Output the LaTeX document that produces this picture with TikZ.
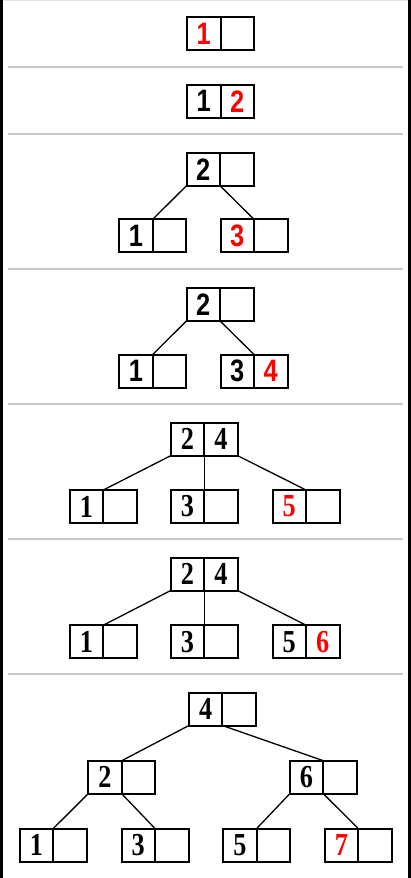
\documentclass[tikz,border=0pt]{standalone}
\usepackage{fontspec}
\setmainfont{Liberation Serif}
\newfontfamily\sansf{Liberation Sans}
\definecolor{newkey}{HTML}{FF0000}
\definecolor{sepgray}{HTML}{C8C8C8}
\tikzset{
  cell/.style={draw=black, line width=2pt, minimum width=33.5pt, minimum height=33pt, inner sep=0pt, outer sep=0pt},
  sansdig/.style={font=\sansf\bfseries\fontsize{31}{31}\selectfont},
  serifdig/.style={font=\bfseries\fontsize{32}{32}\selectfont},
  conn/.style={line width=1.3pt, black},
  sepline/.style={line width=2pt, sepgray},
}
\newcommand\dg[1]{\scalebox{0.82}[1]{#1}}
\newcommand\nk[1]{\textcolor{newkey}{\dg{#1}}}
% name, divider x, centre y, style, left key, right key
\newcommand\bkey[6]{%
  \node[cell,#4,anchor=east] (#1l) at (#2,#3) {#5};
  \node[cell,#4,anchor=west] (#1r) at (#2,#3) {#6};
}
\begin{document}
\begin{tikzpicture}[x=1pt,y=-1pt]
\useasboundingbox (0,0) rectangle (411,878);
\fill[white] (0,0) rectangle (411,878);
\fill[black] (0,0) rectangle (3,878);
\fill[black] (407.5,0) rectangle (411,878);
\draw[sepgray!50, line width=1pt] (3,0.5) -- (407.5,0.5);
% separators
\foreach \yy in {66.5,134,269,404,539,673.5}
  \draw[sepline] (8,\yy) -- (403,\yy);
% row 1
\bkey{a}{220.5}{33.5}{sansdig}{\nk{1}}{}
% row 2
\bkey{b}{220.5}{101.3}{sansdig}{\dg{1}}{\nk{2}}
% row 3
\bkey{ct}{220}{169.2}{sansdig}{\dg{2}}{}
\bkey{cl}{152.7}{235.8}{sansdig}{\dg{1}}{}
\bkey{cr}{254}{235.8}{sansdig}{\nk{3}}{}
\draw[conn] (ctl.south west) -- (cll.north east);
\draw[conn] (ctl.south east) -- (crl.north east);
% row 4
\bkey{dt}{220}{304.4}{sansdig}{\dg{2}}{}
\bkey{dl}{152.7}{371}{sansdig}{\dg{1}}{}
\bkey{dr}{254}{371}{sansdig}{\dg{3}}{\nk{4}}
\draw[conn] (dtl.south west) -- (dll.north east);
\draw[conn] (dtl.south east) -- (drl.north east);
% row 5
\bkey{et}{204.2}{439.2}{serifdig}{\dg{2}}{\dg{4}}
\bkey{el}{103.3}{506.5}{serifdig}{\dg{1}}{}
\bkey{em}{204.2}{506.5}{serifdig}{\dg{3}}{}
\bkey{er}{306}{506.5}{serifdig}{\nk{5}}{}
\draw[conn] (etl.south west) -- (ell.north east);
\draw[conn] (etl.south east) -- (eml.north east);
\draw[conn] (etr.south east) -- (erl.north east);
% row 6
\bkey{ft}{204.2}{574}{serifdig}{\dg{2}}{\dg{4}}
\bkey{fl}{103.3}{641.7}{serifdig}{\dg{1}}{}
\bkey{fm}{204.2}{641.7}{serifdig}{\dg{3}}{}
\bkey{fr}{306}{641.7}{serifdig}{\dg{5}}{\nk{6}}
\draw[conn] (ftl.south west) -- (fll.north east);
\draw[conn] (ftl.south east) -- (fml.north east);
\draw[conn] (ftr.south east) -- (frl.north east);
% row 7
\bkey{g}{222.4}{709}{serifdig}{\dg{4}}{}
\bkey{gl}{121.7}{777.2}{serifdig}{\dg{2}}{}
\bkey{gr}{323.3}{777.2}{serifdig}{\dg{6}}{}
\bkey{ga}{53.3}{845}{serifdig}{\dg{1}}{}
\bkey{gb}{155}{845}{serifdig}{\dg{3}}{}
\bkey{gc}{256.7}{845}{serifdig}{\dg{5}}{}
\bkey{gd}{358.3}{845}{serifdig}{\nk{7}}{}
\draw[conn] (gl.south west) -- (gll.north east);
\draw[conn] (gl.south east) -- (grl.north east);
\draw[conn] (gll.south west) -- (gal.north east);
\draw[conn] (gll.south east) -- (gbl.north east);
\draw[conn] (grl.south west) -- (gcl.north east);
\draw[conn] (grl.south east) -- (gdl.north east);
\end{tikzpicture}
\end{document}
